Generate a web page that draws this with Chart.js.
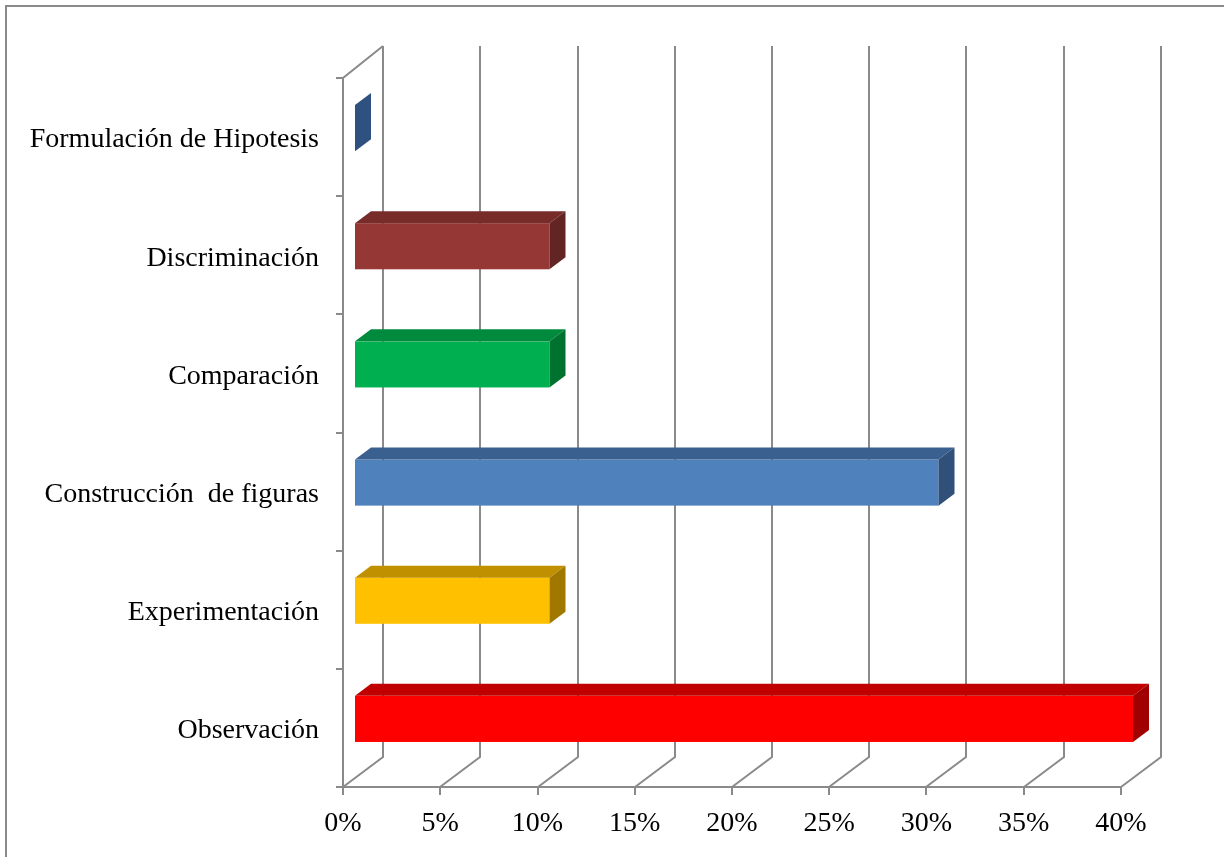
<!DOCTYPE html>
<html>
<head>
<meta charset="utf-8">
<script src="https://cdn.jsdelivr.net/npm/chart.js@4.4.0/dist/chart.umd.min.js"></script>
<style>
  html, body { margin: 0; padding: 0; background: #fff; }
  #wrap { width: 1224px; height: 857px; position: relative; }
</style>
</head>
<body>
<div id="wrap"><canvas id="chart"></canvas></div>
<script>
// categories from top to bottom
let categories = [
  "Formulación de Hipotesis",
  "Discriminación",
  "Comparación",
  "Construcción  de figuras",
  "Experimentación",
  "Observación"
];
let values = [0, 0.10, 0.10, 0.30, 0.10, 0.40];
let frontColors = ["#4f81bd", "#953735", "#00b050", "#4f81bd", "#ffc000", "#ff0000"];
let topColors   = ["#385d8a", "#772c2a", "#008a3e", "#3a6090", "#c09000", "#c00000"];
let sideColors  = ["#2f5180", "#632523", "#00722f", "#30507a", "#a07800", "#a00000"];

const FONT = "'Liberation Serif', 'Times New Roman', serif";
const GRID = "#8a8a8a";

// 3d depth of the walls and of the bars
const WALL_DX = 40, WALL_DY = -30;
const BAR_OX = 12, BAR_OY = -9;
const BAR_DX = 16, BAR_DY = -12;

let walls = {
  id: "walls",
  beforeDatasetsDraw(chart) {
    let ctx = chart.ctx;
    let area = chart.chartArea;
    let xs = chart.scales.x;
    let backTop = area.top - 32;
    ctx.save();
    ctx.strokeStyle = GRID;
    ctx.lineWidth = 2;
    ctx.lineCap = "butt";
    // floor diagonals + back wall verticals
    xs.ticks.forEach((t) => {
      let px = Math.round(xs.getPixelForValue(t.value));
      ctx.beginPath();
      ctx.moveTo(px, area.bottom);
      ctx.lineTo(px + WALL_DX, area.bottom + WALL_DY);
      ctx.lineTo(px + WALL_DX, backTop);
      ctx.stroke();
      // tick mark below the axis
      ctx.beginPath();
      ctx.moveTo(px, area.bottom);
      ctx.lineTo(px, area.bottom + 8);
      ctx.stroke();
    });
    // side wall
    ctx.beginPath();
    ctx.moveTo(area.left, area.bottom);
    ctx.lineTo(area.left, area.top);
    ctx.lineTo(area.left + WALL_DX, backTop);
    ctx.stroke();
    // front floor edge
    ctx.beginPath();
    ctx.moveTo(area.left - 7, area.bottom);
    ctx.lineTo(xs.getPixelForValue(xs.max), area.bottom);
    ctx.stroke();
    // category ticks
    let n = categories.length;
    for (let k = 0; k <= n; k++) {
      let y = Math.round(area.top + k * (area.bottom - area.top) / n);
      ctx.beginPath();
      ctx.moveTo(area.left - 7, y);
      ctx.lineTo(area.left, y);
      ctx.stroke();
    }
    ctx.restore();
  },
  afterDatasetsDraw(chart) {
    let ctx = chart.ctx;
    let meta = chart.getDatasetMeta(0);
    ctx.save();
    meta.data.forEach((bar, i) => {
      let p = bar.getProps(["x", "y", "base", "height"], true);
      let l = p.base + BAR_OX;
      let r = p.x + BAR_OX;
      let t = p.y - p.height / 2 + BAR_OY;
      let b = p.y + p.height / 2 + BAR_OY;
      // front
      ctx.fillStyle = frontColors[i];
      ctx.fillRect(l, t, r - l, b - t);
      // top
      ctx.fillStyle = topColors[i];
      ctx.beginPath();
      ctx.moveTo(l, t);
      ctx.lineTo(r, t);
      ctx.lineTo(r + BAR_DX, t + BAR_DY);
      ctx.lineTo(l + BAR_DX, t + BAR_DY);
      ctx.closePath();
      ctx.fill();
      // right side
      ctx.fillStyle = sideColors[i];
      ctx.beginPath();
      ctx.moveTo(r, t);
      ctx.lineTo(r + BAR_DX, t + BAR_DY);
      ctx.lineTo(r + BAR_DX, b + BAR_DY);
      ctx.lineTo(r, b);
      ctx.closePath();
      ctx.fill();
    });
    ctx.restore();
  },
  afterDraw(chart) {
    // outer frame, only top and left edges fall inside the canvas
    let ctx = chart.ctx;
    ctx.save();
    ctx.strokeStyle = "#8a8a8a";
    ctx.lineWidth = 2;
    ctx.beginPath();
    ctx.moveTo(6, chart.height);
    ctx.lineTo(6, 6);
    ctx.lineTo(chart.width, 6);
    ctx.stroke();
    ctx.restore();
  }
};

new Chart(document.getElementById("chart"), {
  type: "bar",
  data: {
    labels: categories,
    datasets: [{
      data: values,
      backgroundColor: "rgba(0,0,0,0)",
      borderWidth: 0,
      barPercentage: 0.39,
      categoryPercentage: 1.0
    }]
  },
  options: {
    indexAxis: "y",
    responsive: true,
    maintainAspectRatio: false,
    animation: false,
    layout: { padding: { top: 78, right: 103, left: 0, bottom: 0 } },
    plugins: { legend: { display: false }, tooltip: { enabled: false } },
    scales: {
      x: {
        min: 0,
        max: 0.4,
        grid: { display: false },
        border: { display: false },
        ticks: {
          stepSize: 0.05,
          padding: 12,
          color: "#000",
          font: { family: FONT, size: 28 },
          callback: (v) => Math.round(v * 100) + "%"
        },
        afterFit: (scale) => { scale.height = 70; }
      },
      y: {
        grid: { display: false },
        border: { display: false },
        ticks: {
          padding: 16,
          labelOffset: 3,
          color: "#000",
          font: { family: FONT, size: 28 }
        },
        afterFit: (scale) => { scale.width = 343; }
      }
    }
  },
  plugins: [walls]
});
</script>
</body>
</html>
